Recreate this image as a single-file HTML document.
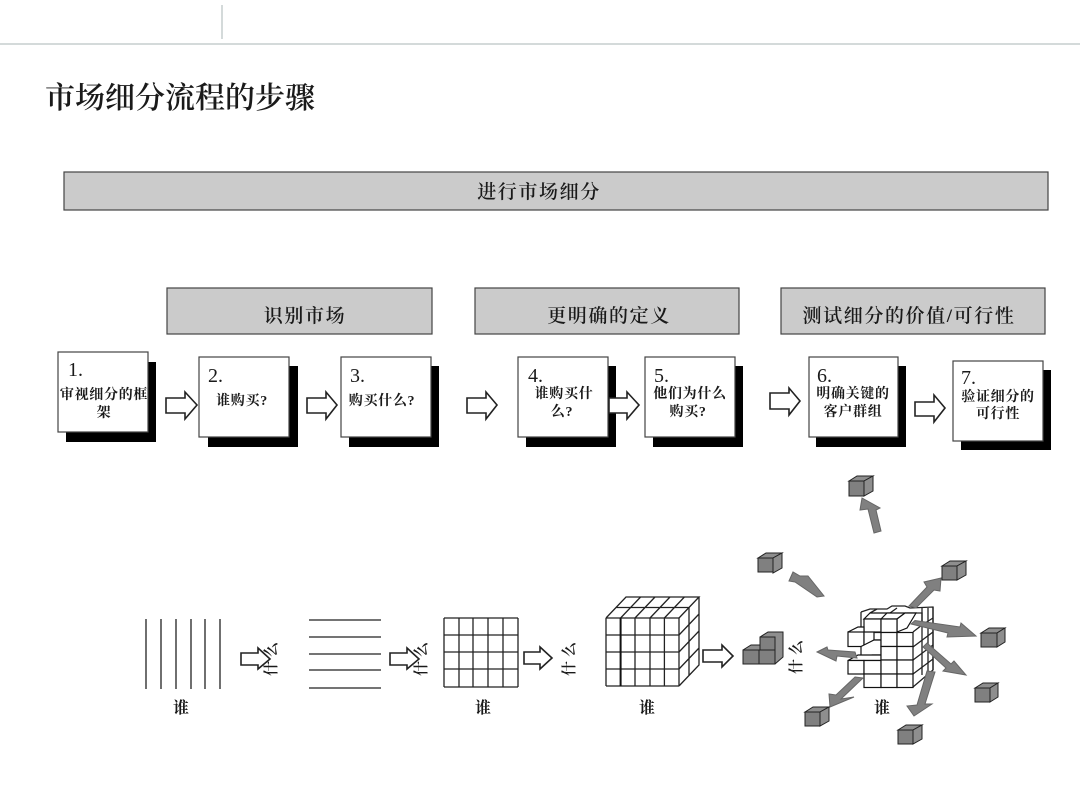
<!DOCTYPE html>
<html><head><meta charset="utf-8"><style>
html,body{margin:0;padding:0;background:#fff;width:1080px;height:810px;overflow:hidden}
svg{display:block}
text{font-family:"Liberation Serif","Noto Serif CJK SC",serif;fill:#1a1a1a}
.l{font-size:14px;font-weight:700;text-anchor:middle;letter-spacing:.7px}
.n{font-size:20px}
.b{font-size:19px;text-anchor:middle;letter-spacing:1.6px;font-weight:600}
.w{font-size:16px;font-weight:700;text-anchor:middle}
.r{font-size:15px;text-anchor:middle;letter-spacing:4px;font-weight:600}
.s{fill:#000}.x{fill:#fff;stroke:#444;stroke-width:1.2}
.a{fill:#fff;stroke:#222;stroke-width:1.6}
.g{fill:#cbcbcb;stroke:#444;stroke-width:1.2}
.ln{stroke:#222;stroke-width:1.3;fill:none}
.c{fill:#fff;stroke:#111;stroke-width:1.2}
.ga{fill:#808080;stroke:#666;stroke-width:1}
.f{fill:#808080;stroke:#222;stroke-width:1}
.f2{fill:#8e8e8e;stroke:#222;stroke-width:1}
</style></head><body>
<svg width="1080" height="810" viewBox="0 0 1080 810" xmlns="http://www.w3.org/2000/svg">
<rect width="1080" height="810" fill="#fff"/>
<line x1="0" y1="44" x2="1080" y2="44" stroke="#c6cdcd" stroke-width="1.5"/>
<line x1="222" y1="5" x2="222" y2="39" stroke="#c6cdcd" stroke-width="1.5"/>
<text x="45" y="108" font-size="30" style="font-weight:600">市场细分流程的步骤</text>

<rect class="g" x="64" y="172" width="984" height="38"/>
<text class="b" x="539" y="198">进行市场细分</text>
<rect class="g" x="167" y="288" width="265" height="46"/>
<text class="b" x="305" y="322">识别市场</text>
<rect class="g" x="475" y="288" width="264" height="46"/>
<text class="b" x="609" y="322">更明确的定义</text>
<rect class="g" x="781" y="288" width="264" height="46"/>
<text class="b" x="909" y="322">测试细分的价值/可行性</text>

<rect class="s" x="66" y="362" width="90" height="80"/><rect class="x" x="58" y="352" width="90" height="80"/>
<rect class="s" x="208" y="366" width="90" height="81"/><rect class="x" x="199" y="357" width="90" height="80"/>
<rect class="s" x="349" y="366" width="90" height="81"/><rect class="x" x="341" y="357" width="90" height="80"/>
<rect class="s" x="526" y="366" width="90" height="81"/><rect class="x" x="518" y="357" width="90" height="80"/>
<rect class="s" x="653" y="366" width="90" height="81"/><rect class="x" x="645" y="357" width="90" height="80"/>
<rect class="s" x="816" y="366" width="90" height="81"/><rect class="x" x="809" y="357" width="89" height="80"/>
<rect class="s" x="961" y="370" width="90" height="80"/><rect class="x" x="953" y="361" width="90" height="80"/>

<text class="n" x="68" y="376">1.</text>
<text class="l" x="104" y="399">审视细分的框</text><text class="l" x="104" y="417">架</text>
<text class="n" x="208" y="382">2.</text>
<text class="l" x="242" y="405">谁购买?</text>
<text class="n" x="350" y="382">3.</text>
<text class="l" x="382" y="405">购买什么?</text>
<text class="n" x="528" y="382">4.</text>
<text class="l" x="564" y="398">谁购买什</text><text class="l" x="562" y="416">么?</text>
<text class="n" x="654" y="382">5.</text>
<text class="l" x="690" y="398">他们为什么</text><text class="l" x="688" y="416">购买?</text>
<text class="n" x="817" y="382">6.</text>
<text class="l" x="853" y="398">明确关键的</text><text class="l" x="853" y="416">客户群组</text>
<text class="n" x="961" y="384">7.</text>
<text class="l" x="998" y="401">验证细分的</text><text class="l" x="998" y="418">可行性</text>

<path class="a" d="M166 398H185V392L197 405L185 419V413H166Z"/>
<path class="a" d="M307 398H326V392L337 405L326 419V413H307Z"/>
<path class="a" d="M467 398H486V392L497 405L486 419V413H467Z"/>
<path class="a" d="M609 398H627V392L639 405L627 419V413H609Z"/>
<path class="a" d="M770 393H789V388L800 401L789 415V409H770Z"/>
<path class="a" d="M915 402H934V395L945 408L934 422V416H915Z"/>
<path class="a" d="M241 653H258V648L270 659L258 669V665H241Z"/>
<path class="a" d="M390 653H407V648L419 659L407 669V665H390Z"/>
<path class="a" d="M524 652H540V647L552 658L540 669V664H524Z"/>
<path class="a" d="M703 650H722V645L733 656L722 667V662H703Z"/>

<text class="r" transform="translate(276 657) rotate(-90)">什么</text>
<text class="r" transform="translate(426 657) rotate(-90)">什么</text>
<text class="r" transform="translate(574 657) rotate(-90)">什么</text>
<text class="r" transform="translate(801 655) rotate(-90)">什么</text>

<text class="w" x="181" y="713">谁</text>
<text class="w" x="483" y="713">谁</text>
<text class="w" x="647" y="713">谁</text>
<text class="w" x="882" y="713">谁</text>

<path class="ln" d="M146 619V689M161 619V689M176 619V689M191 619V689M205 619V689M220 619V689"/>
<path class="ln" d="M309 620H381M309 637H381M309 654H381M309 670H381M309 688H381"/>
<path class="ln" d="M444 618H518M444 635H518M444 652H518M444 669H518M444 687H518M444 618V687M459 618V687M473 618V687M488 618V687M503 618V687M518 618V687"/>

<path class="ln" d="M606 618H679M606 635H679M606 652H679M606 669H679M606 686H679M606 618V686M635 618V686M650 618V686M664.400 618V686M679 618V686"/>
<path d="M620.600 618V686" stroke="#111" stroke-width="2" fill="none"/>
<path class="ln" d="M606 618L626 597H699L679 618M620.600 618L640.600 597M635 618L655 597M650 618L670 597M664.400 618L684.400 597M616 607.500H689"/>
<path class="ln" d="M699 597V665L679 686M689 607.500V675.500M679 635L699 614M679 652L699 631M679 669L699 648"/>

<path class="f2" d="M849 481L857 476H873L864 481Z"/><path class="f2" d="M864 481L873 476V491L864 496Z"/><rect class="f" x="849" y="481" width="15" height="15"/>
<path class="f2" d="M758 558L766 553H782L773 558Z"/><path class="f2" d="M773 558L782 553V568L773 573Z"/><rect class="f" x="758" y="558" width="15" height="14"/>
<path class="f2" d="M942 566L950 561H966L957 566Z"/><path class="f2" d="M957 566L966 561V575L957 580Z"/><rect class="f" x="942" y="566" width="15" height="14"/>
<path class="f2" d="M981 633L989 628H1005L997 633Z"/><path class="f2" d="M997 633L1005 628V642L997 647Z"/><rect class="f" x="981" y="633" width="16" height="14"/>
<path class="f2" d="M975 688L983 683H998L990 688Z"/><path class="f2" d="M990 688L998 683V697L990 702Z"/><rect class="f" x="975" y="688" width="15" height="14"/>
<path class="f2" d="M898 730L906 725H922L913 730Z"/><path class="f2" d="M913 730L922 725V739L913 744Z"/><rect class="f" x="898" y="730" width="15" height="14"/>
<path class="f2" d="M805 712L813 707H829L820 712Z"/><path class="f2" d="M820 712L829 707V721L820 726Z"/><rect class="f" x="805" y="712" width="15" height="14"/>
<path class="f2" d="M743 650L751 645H767V664H743Z"/>
<path class="f2" d="M760 637L768 632H783V657L775 664H760Z"/>
<rect class="f" x="760" y="637" width="15" height="13"/>
<rect class="f" x="743" y="650" width="16" height="14"/><rect class="f" x="759" y="650" width="16" height="14"/>

<path class="ln" fill="#fff" d="M861 612L870 609H887L892 606H905L910 608L933 607V670L913 687"/>
<path class="ln" d="M861 612V632M870 613L877 609M890 613L897 608M922 608V675M928 608V672M933 607V670"/>
<path class="ln" d="M907 613H922V625M913 632L922 625L933 618M913 647L933 632M913 660L933 645M913 674L933 659"/>
<path class="c" d="M864 619L870 613H892L881 619Z"/>
<path class="c" d="M881 619L887 613H905L897 619Z"/>
<path class="c" d="M897 619L905 613H916L907 628L897 632Z"/>
<rect class="c" x="864" y="619" width="17" height="13.500"/>
<rect class="c" x="881" y="619" width="16" height="13.500"/>
<path class="c" d="M848 632L858 627H864V632"/>
<rect class="c" x="848" y="632" width="16" height="14.500"/>
<path class="c" d="M864 632H874V640L864 646Z"/>
<path class="ln" d="M874 632H881M874 640H881"/>
<path class="c" d="M861 646.500L874 640H881V655H872L861 660Z"/>
<path class="c" d="M848 660.500L858 655H881V660.500H848Z"/>
<rect class="c" x="881" y="632.500" width="16" height="14"/><rect class="c" x="897" y="632.500" width="16" height="14"/>
<rect class="c" x="881" y="646.500" width="16" height="13.500"/><rect class="c" x="897" y="646.500" width="16" height="13.500"/>
<rect class="c" x="848" y="660.500" width="16" height="13.500"/><rect class="c" x="864" y="660.500" width="17" height="13.500"/><rect class="c" x="881" y="660" width="16" height="14" stroke="#888"/><rect class="c" x="897" y="660" width="16" height="14"/>
<rect class="c" x="864" y="674" width="17" height="13.500"/><rect class="c" x="881" y="674" width="16" height="13.500"/><rect class="c" x="897" y="674" width="16" height="13.500"/>

<g class="ga">
<polygon points="874,533 881,531 876,510 880,508 862,498 860,510 868,509"/>
<polygon points="789,581 793,572 800,576 808,576 824,596 817,597 795,582"/>
<polygon points="909,606 927,587 924,582 941,578 940,591 934,590 916,608"/>
<polygon points="911,624 915,620.500 960,627 961,623 976,636 947,637 948,633"/>
<polygon points="923,647 927,643 951,664 954,661 966,675 943,671 946,668"/>
<polygon points="927,671 935,672 925,704 932,704 914,716 907,706 917,705"/>
<polygon points="855,677 863,678 841,699 854,697 830,707 829,694 836,695"/>
<polygon points="817,652 827,647 828,650 855,652 857,658 837,656 836,661"/>
</g>
</svg>
</body></html>
